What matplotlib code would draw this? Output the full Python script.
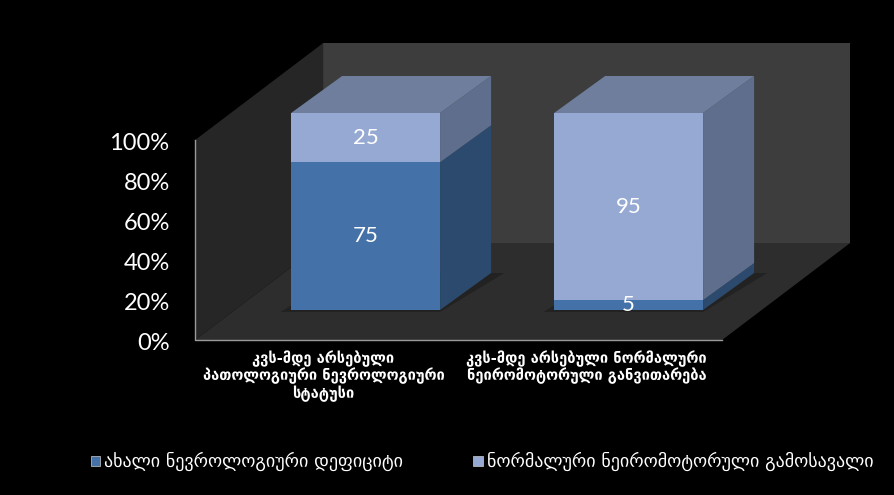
import matplotlib.pyplot as plt
from matplotlib.patches import Polygon, Patch

categories = ["კვს-მდე არსებული\nპათოლოგიური ნევროლოგიური\nსტატუსი",
              "კვს-მდე არსებული ნორმალური\nნეირომოტორული განვითარება"]
series = ["ახალი ნევროლოგიური დეფიციტი", "ნორმალური ნეირომოტორული გამოსავალი"]
deficit = [75, 5]
normal = [25, 95]
yticks = [0, 20, 40, 60, 80, 100]

front = ["#4472a8", "#95a9d2"]
side = ["#2c4a6e", "#5e6e8c"]
top_c = "#6e7e9c"

fig = plt.figure(figsize=(8.95, 4.95), dpi=100, facecolor="black")
ax = fig.add_axes([0, 0, 1, 1])
ax.set_facecolor("black"); ax.axis("off")
ax.set_xlim(-1.39, 2.013); ax.set_ylim(-77.5, 170)

# walls and floor of the 3d box
x0, x1, DX, DY = -0.648, 1.3555, 0.487, 48.5
ax.add_patch(Polygon([(x0+DX, DY), (x1+DX, DY), (x1+DX, 100+DY), (x0+DX, 100+DY)], color="#3d3d3d", lw=0))
ax.add_patch(Polygon([(x0, 0), (x0, 100), (x0+DX, 100+DY), (x0+DX, DY)], color="#262626", lw=0))
ax.add_patch(Polygon([(x0, 0), (x1, 0), (x1+DX, DY), (x0+DX, DY)], color="#2d2d2d", lw=0))
ax.plot([x0, x0, x1], [100, 0, 0], color="#9a9a9a", lw=1)

for v in yticks:
    ax.text(-0.745, v - 1.5, f"{v}%", color="white", fontsize=17, family="Lato", ha="right", va="center")

# bars
w, k, lift, bdx, bdy = 0.5665, 0.985, 15, 0.194, 18.5
for i in range(len(categories)):
    b = lift
    segs = [deficit[i], normal[i]]
    # soft shadow on the floor
    ax.add_patch(Polygon([(i-w/2-0.04, b-1), (i+w/2, b-1), (i+w/2+bdx+0.05, b+bdy), (i-w/2+bdx, b+bdy)],
                         color="#222222", lw=0))
    for j, val in enumerate(segs):
        h = val * k
        xr = i + w / 2
        ax.add_patch(Polygon([(xr, b), (xr+bdx, b+bdy), (xr+bdx, b+h+bdy), (xr, b+h)], color=side[j], lw=0))
        ax.bar(i, h, bottom=b, width=w, color=front[j], lw=0)
        ax.text(i, b + h / 2, str(val), color="white", fontsize=16, family="Lato", ha="center", va="center")
        b += h
    ax.add_patch(Polygon([(i-w/2, b), (i+w/2, b), (i+w/2+bdx, b+bdy), (i-w/2+bdx, b+bdy)], color=top_c, lw=0))
    ax.text(i - 0.16, -5, categories[i], color="white", fontsize=10.5, fontweight="bold",
            ha="center", va="top", linespacing=1.1, family="DejaVu Sans")

handles = [Patch(facecolor=c, edgecolor="#cccccc", lw=0.5) for c in front]
leg = ax.legend(handles, series, loc="lower left", bbox_to_anchor=(0.083, 0.015), ncol=2, frameon=False,
                handlelength=0.5, handleheight=0.5, handletextpad=0.25, columnspacing=3.9,
                prop={"family": "DejaVu Sans", "size": 13})
for t in leg.get_texts():
    t.set_color("white")

fig.savefig("out.png", dpi=100, facecolor="black")
